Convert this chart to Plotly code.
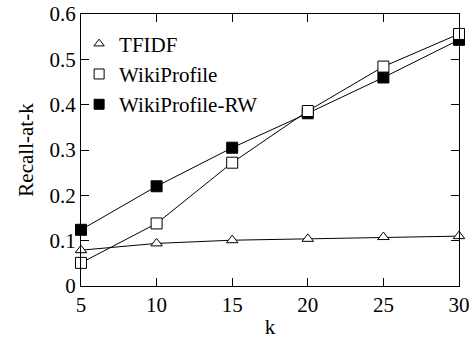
import plotly.graph_objects as go

k = [5, 10, 15, 20, 25, 30]
tfidf = [0.079, 0.094, 0.101, 0.104, 0.108, 0.110]
wikiprofile = [0.051, 0.138, 0.272, 0.386, 0.484, 0.556]
wikiprofile_rw = [0.124, 0.220, 0.305, 0.381, 0.460, 0.543]

FONT = "Liberation Serif, Times New Roman, serif"
fig = go.Figure()

series = [
    ("TFIDF", tfidf, "triangle-up", 10, "white"),
    ("WikiProfile", wikiprofile, "square", 11, "white"),
    ("WikiProfile-RW", wikiprofile_rw, "square", 11, "black"),
]
# draw order: RW first so open WikiProfile squares overlay it
for name, ys, sym, sz, fill in [series[2], series[1], series[0]]:
    fig.add_trace(go.Scatter(
        x=k, y=ys, mode="lines+markers", showlegend=False,
        line=dict(color="black", width=1),
        marker=dict(symbol=sym, size=sz, color=fill,
                    line=dict(color="black", width=1)),
        cliponaxis=False,
    ))
for name, ys, sym, sz, fill in series:
    fig.add_trace(go.Scatter(
        x=[None], y=[None], mode="markers", name=name,
        marker=dict(symbol=sym, size=sz - 1, color=fill,
                    line=dict(color="black", width=1)),
    ))

axis_common = dict(
    showline=True, linecolor="black", linewidth=1, mirror="ticks",
    ticks="inside", ticklen=8, tickcolor="black", tickwidth=1,
    showgrid=False, zeroline=False, automargin=False,
    tickfont=dict(family=FONT, size=21, color="black"),
)
fig.update_xaxes(range=[5, 30], tickvals=[5, 10, 15, 20, 25, 30],
                 title=dict(text="k", font=dict(family=FONT, size=21, color="black"), standoff=6),
                 **axis_common)
fig.update_yaxes(range=[0, 0.6], tickvals=[0, 0.1, 0.2, 0.3, 0.4, 0.5, 0.6],
                 ticktext=["0", "0.1", "0.2", "0.3", "0.4", "0.5", "0.6"],
                 title=dict(text="Recall-at-k", font=dict(family=FONT, size=21, color="black"), standoff=10),
                 **axis_common)
fig.update_layout(
    width=476, height=339,
    margin=dict(l=81, r=17, t=14, b=53),
    plot_bgcolor="white", paper_bgcolor="white",
    font=dict(family=FONT, size=21, color="black"),
    legend=dict(x=-0.005, y=0.965, xanchor="left", yanchor="top",
                bgcolor="rgba(0,0,0,0)", font=dict(family=FONT, size=21),
                itemwidth=30, tracegroupgap=0),
)
fig.write_html("out.html")
